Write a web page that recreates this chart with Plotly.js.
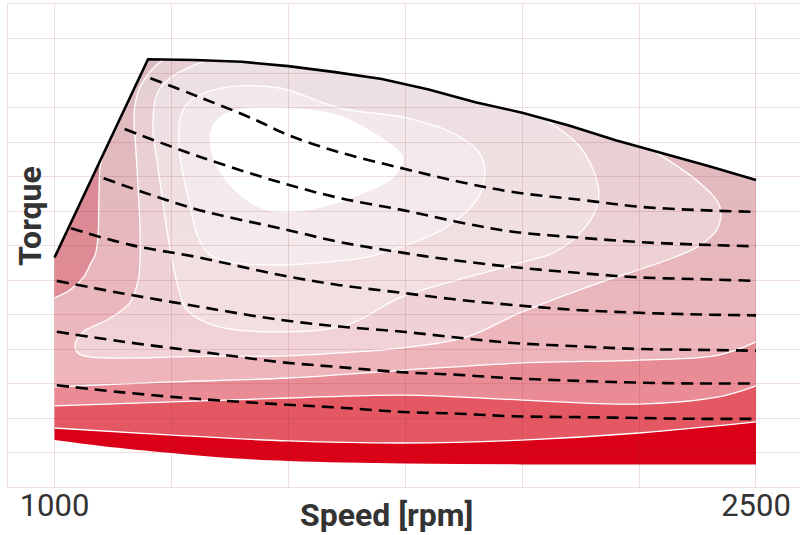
<!DOCTYPE html>
<html><head><meta charset="utf-8">
<script src="https://cdn.plot.ly/plotly-3.0.1.min.js"></script>
<style>html,body{margin:0;padding:0;background:#fff}#chart{width:800px;height:535px}</style>
</head><body><div id="chart"></div>
<script>
// ---------- data (speed in rpm, torque in Nm) ----------
const maxTorqueRpm = [1000,1200,1300,1400,1500,1600,1700,1800,1900,2000,2100,2200,2300,2400,2500];
const maxTorqueNm  = [1330,2480,2475,2465,2440,2405,2365,2305,2230,2170,2095,2010,1935,1860,1780];
const minTorqueRpm = [1000,1100,1250,1375,1500,1750,2000,2250,2500];
const minTorqueNm  = [272,238,197,168,151,136,131,130,130];

// efficiency contours, worst (bottom) to best (island)
const contC_rpm = [1000,1250,1500,1750,2000,2250,2500];
const contC_Nm  = [342,301,267,255,272,313,377];
const contB_rpm = [1000,1250,1500,1750,2000,2250,2420,2500];
const contB_Nm  = [470,493,516,533,504,481,522,586];
const contA_rpm = [1000,1250,1500,1750,2000,2250,2420,2500];
const contA_Nm  = [580,609,632,678,719,736,765,841];
const contD_rpm = [1102,1097,1095,1093,1087,1078,1061,1033,1000];
const contD_Nm  = [1916,1838,1664,1449,1345,1299,1212,1142,1096];
const cont3_rpm = [1232,1204,1183,1172,1170,1174,1179,1183,1183,1179,1161,1112,1061,1044,1050,1076,1183,1253,1375,1482,1610,1745,1882,1995,2139,2310,2374,2416,2423,2380,2280];
const cont3_Nm  = [2478,2406,2319,2214,2128,1954,1722,1490,1316,1200,1067,968,899,823,777,754,748,754,759,759,777,806,870,1009,1159,1316,1391,1490,1623,1762,1950];
const cont2_rpm = [1326,1290,1253,1226,1215,1211,1211,1219,1228,1241,1251,1268,1283,1339,1467,1625,1738,1839,2002,2066,2124,2160,2162,2124,2045];
const cont2_Nm  = [2474,2435,2383,2313,2243,2145,2052,1896,1722,1478,1316,1125,1026,939,899,939,1096,1183,1304,1357,1472,1623,1751,1971,2136];
const cont1_rpm = [1397,1482,1610,1754,1852,1909,1920,1903,1839,1754,1660,1604,1482,1375,1333,1305,1290,1275,1266,1268,1285,1326,1397];
const cont1_Nm  = [2325,2313,2197,2139,2052,1936,1797,1664,1507,1403,1328,1310,1287,1304,1345,1461,1635,1809,1983,2128,2226,2290,2325];
const island_rpm = [1333,1343,1375,1429,1525,1610,1681,1728,1745,1724,1660,1568,1493,1439,1386,1347,1333];
const island_Nm  = [2012,2110,2174,2197,2191,2151,2052,1965,1907,1797,1704,1623,1594,1623,1722,1867,2012];

// constant power lines (dashed)
const p1_rpm = [1205,1310,1420,1500,1610,1740,1865,1980,2125,2250,2380,2500];
const p1_Nm  = [2370,2260,2140,2040,1940,1850,1770,1710,1665,1625,1605,1595];
const p2_rpm = [1150,1310,1490,1610,1745,1865,1980,2125,2250,2380,2500];
const p2_Nm  = [2075,1915,1760,1675,1605,1535,1480,1445,1420,1405,1395];
const p3_rpm = [1105,1205,1310,1490,1610,1740,1840,1980,2125,2250,2380,2500];
const p3_Nm  = [1790,1695,1605,1495,1420,1360,1320,1275,1240,1215,1205,1195];
const p4_rpm = [1035,1160,1310,1480,1610,1745,1865,1980,2125,2250,2380,2500];
const p4_Nm  = [1500,1405,1330,1230,1170,1125,1085,1055,1025,1010,1000,995];
const pLow_rpm = [1005,1140,1310,1480,1610,1745,1865,1980,2125,2250,2380,2500];
const p5_Nm  = [1195,1125,1045,970,930,900,865,835,815,800,795,790];
const p6_Nm  = [900,845,785,725,695,665,650,630,615,605,600,600];
const p7_Nm  = [590,550,510,480,460,435,425,410,405,400,395,395];

const xTickVals = [1000, 2500];

// ---------- helpers ----------
function envelopeBetween(r0, r1) {
  const xs = [], ys = [];
  maxTorqueRpm.forEach((r, i) => { if (r >= r0 && r <= r1) { xs.push(r); ys.push(maxTorqueNm[i]); } });
  return {x: xs, y: ys};
}
function grad(c0, c1) {
  return {type: 'vertical', colorscale: [[0, c0], [1, c1]], start: 400, stop: 2480};
}
const WL = {color: '#ffffff', width: 1.3, shape: 'spline'};
const NOL = {width: 0};
function tr(o) { return Object.assign({type: 'scatter', mode: 'lines', hoverinfo: 'skip', showlegend: false}, o); }

const traces = [];
traces.push(tr({x: minTorqueRpm, y: minTorqueNm, line: {width: 0, shape: 'spline'}}));
traces.push(tr({x: contC_rpm, y: contC_Nm, fill: 'tonexty', fillcolor: 'rgb(217,0,23)', line: WL}));
traces.push(tr({x: contB_rpm, y: contB_Nm, fill: 'tonexty', fillcolor: 'rgb(228,88,100)', line: WL}));
traces.push(tr({x: contA_rpm, y: contA_Nm, fill: 'tonexty', fillcolor: 'rgb(232,140,150)',
  fillgradient: grad('rgb(236,140,150)', 'rgb(206,138,148)'), line: WL}));
traces.push(tr({x: maxTorqueRpm, y: maxTorqueNm, fill: 'tonexty', fillcolor: 'rgb(235,182,188)',
  fillgradient: grad('rgb(241,180,186)', 'rgb(219,188,192)'), line: NOL}));
// upper-left corner region
const segD = envelopeBetween(0, contD_rpm[0]);
traces.push(tr({x: segD.x, y: segD.y, line: NOL}));
traces.push(tr({x: contD_rpm, y: contD_Nm, fill: 'tonexty', fillcolor: 'rgb(215,140,150)',
  fillgradient: grad('rgb(236,140,150)', 'rgb(206,138,148)'), line: WL}));
// contour 3
const seg3 = envelopeBetween(cont3_rpm[0] + 1, cont3_rpm[cont3_rpm.length - 1] - 1);
traces.push(tr({x: seg3.x, y: seg3.y, line: NOL}));
traces.push(tr({x: cont3_rpm, y: cont3_Nm, fill: 'tonexty', fillcolor: 'rgb(238,209,213)',
  fillgradient: grad('rgb(244,211,215)', 'rgb(229,207,211)'), line: WL}));
// contour 2
const seg2 = envelopeBetween(cont2_rpm[0] + 1, cont2_rpm[cont2_rpm.length - 1] - 1);
traces.push(tr({x: seg2.x, y: seg2.y, line: NOL}));
traces.push(tr({x: cont2_rpm, y: cont2_Nm, fill: 'tonexty', fillcolor: 'rgb(240,223,226)',
  fillgradient: grad('rgb(246,223,226)', 'rgb(236,224,226)'), line: WL}));
// contour 1 (closed)
traces.push(tr({x: cont1_rpm, y: cont1_Nm, fill: 'toself', fillcolor: 'rgb(244,233,235)',
  fillgradient: grad('rgb(246,234,236)', 'rgb(242,232,234)'), line: WL}));
// best island
traces.push(tr({x: island_rpm, y: island_Nm, fill: 'toself', fillcolor: '#ffffff', line: WL}));

// overlay subplot: dashed power lines + full-load curve
const DL = {color: '#000000', width: 2.6, dash: '12px,7px', shape: 'spline'};
[[p1_rpm, p1_Nm], [p2_rpm, p2_Nm], [p3_rpm, p3_Nm], [p4_rpm, p4_Nm],
 [pLow_rpm, p5_Nm], [pLow_rpm, p6_Nm], [pLow_rpm, p7_Nm]].forEach(function (p) {
  traces.push(tr({x: p[0], y: p[1], xaxis: 'x2', yaxis: 'y2', line: DL}));
});
traces.push(tr({x: maxTorqueRpm, y: maxTorqueNm, xaxis: 'x2', yaxis: 'y2',
  line: {color: '#000000', width: 2.6, shape: 'linear'}}));

const GRID = 'rgba(150,40,60,0.15)';
const XR = [900.6, 2594.1], YR = [0, 2800];
const layout = {
  width: 800, height: 535,
  margin: {l: 8, r: 0, t: 4, b: 48},
  paper_bgcolor: '#ffffff', plot_bgcolor: 'rgba(0,0,0,0)',
  font: {family: 'Roboto, sans-serif', color: '#333333'},
  showlegend: false, hovermode: false,
  xaxis: {range: XR, tickvals: xTickVals, ticktext: xTickVals.map(String), showgrid: false, zeroline: false,
          showline: false, ticks: '', ticklabelstandoff: -3, tickfont: {size: 31, color: '#333333', family: 'Roboto'}},
  yaxis: {range: YR, showgrid: false, zeroline: false, showticklabels: false, showline: false, ticks: ''},
  xaxis2: {range: XR, anchor: 'y2', domain: [0, 1], tick0: 1000, dtick: 250, showgrid: true, gridcolor: GRID, gridwidth: 1,
           showticklabels: false, ticks: '', zeroline: false, showline: true, mirror: true, linecolor: GRID, linewidth: 1},
  yaxis2: {range: YR, anchor: 'x2', domain: [0, 1], tick0: 0, dtick: 200, showgrid: true, gridcolor: GRID, gridwidth: 1,
           showticklabels: false, ticks: '', zeroline: false, showline: true, mirror: false, linecolor: GRID, linewidth: 1},
  annotations: [
    {text: '<b>Torque</b>', xref: 'paper', yref: 'paper', x: 0.0278, y: 0.561, textangle: -90, showarrow: false,
     xanchor: 'center', yanchor: 'middle', font: {size: 32, color: '#333333', family: 'Roboto'}},
    {text: '<b>Speed [rpm]</b>', xref: 'paper', yref: 'paper', x: 0.4785, y: -0.058, showarrow: false,
     xanchor: 'center', yanchor: 'middle', font: {size: 32, color: '#333333', family: 'Roboto'}}
  ]
};
Plotly.newPlot('chart', traces, layout, {staticPlot: true, displayModeBar: false});
</script>
</body></html>
